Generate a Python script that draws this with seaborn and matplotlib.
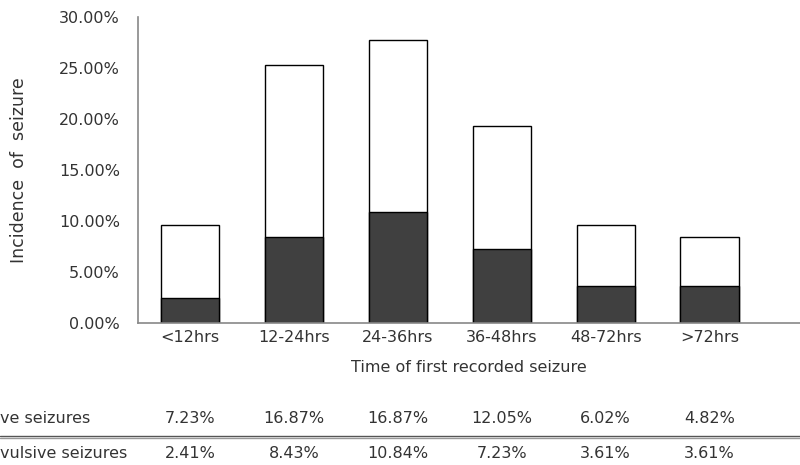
import numpy as np
import pandas as pd
import seaborn as sns
import matplotlib
matplotlib.use("Agg")
import matplotlib.pyplot as plt
from matplotlib.ticker import PercentFormatter

# data (fractions)
categories = ["<12hrs", "12-24hrs", "24-36hrs", "36-48hrs", "48-72hrs", ">72hrs"]
convulsive = [0.0723, 0.1687, 0.1687, 0.1205, 0.0602, 0.0482]
non_convulsive = [0.0241, 0.0843, 0.1084, 0.0723, 0.0361, 0.0361]
# row labels are cropped at the left edge in the source image
row_labels = ["ve seizures", "vulsive seizures"]

sns.set_theme(style="white")
plt.rcParams["font.family"] = ["DejaVu Sans"]
txt = "#333333"

df = pd.DataFrame({
    "time": categories,
    "conv": convulsive,
    "nonconv": non_convulsive,
})
df["total"] = df["conv"] + df["nonconv"]

fig = plt.figure(figsize=(8, 4.65), dpi=100)
ax = fig.add_axes([0.1725, 0.3054, 0.8275, 0.658])

# white top segment = whole stack, dark bottom drawn over it
sns.barplot(data=df, x="time", y="total", color="white", edgecolor="black",
            linewidth=1.0, width=0.56, ax=ax, saturation=1)
sns.barplot(data=df, x="time", y="nonconv", color="#404040", edgecolor="black",
            linewidth=1.0, width=0.56, ax=ax, saturation=1)

ax.set_ylim(0, 0.30)
ax.set_xlim(-0.5, 5.87)
ax.set_yticks(np.arange(0, 0.301, 0.05))
ax.yaxis.set_major_formatter(PercentFormatter(xmax=1, decimals=2))
ax.tick_params(axis="both", length=0, labelsize=11.5, colors=txt)
ax.tick_params(axis="y", pad=13)
ax.tick_params(axis="x", pad=5)

for s in ["top", "right"]:
    ax.spines[s].set_visible(False)
for s in ["left", "bottom"]:
    ax.spines[s].set_color("#888888")
    ax.spines[s].set_linewidth(1.2)

ax.set_ylabel("Incidence  of  seizure", fontsize=12.5, color=txt, labelpad=22)
ax.set_xlabel("Time of first recorded seizure", fontsize=11.5, color=txt, labelpad=11)

# data table under the chart
for label, vals, y in zip(row_labels, [convulsive, non_convulsive], [418, 453]):
    yf = 1 - y / 465
    fig.text(0.0, yf, label, fontsize=11.5, color=txt, ha="left", va="center")
    for i, v in enumerate(vals):
        xd = ax.transData.transform((i, 0))[0]
        xf = fig.transFigure.inverted().transform((xd, 0))[0]
        fig.text(xf, yf, f"{v * 100:.2f}%", fontsize=11.5, color=txt,
                 ha="center", va="center")

fig.add_artist(plt.Line2D([0, 1], [1 - 436 / 465] * 2, color="#555555", lw=1.0,
                          transform=fig.transFigure))
fig.add_artist(plt.Line2D([0, 1], [1 - 438 / 465] * 2, color="#999999", lw=1.0,
                          transform=fig.transFigure))

fig.savefig("out.png", dpi=100)
